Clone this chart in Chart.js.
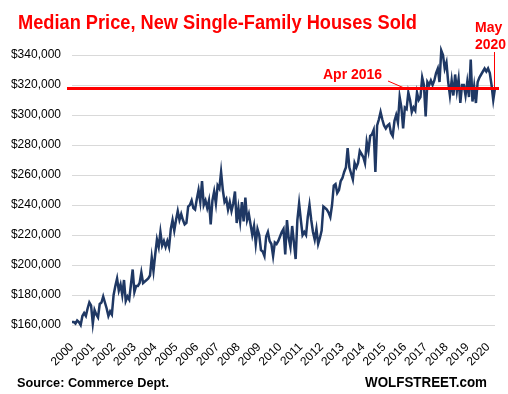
<!DOCTYPE html>
<html>
<head>
<meta charset="utf-8">
<script src="https://cdn.jsdelivr.net/npm/chart.js@4/dist/chart.umd.min.js"></script>
<style>
  html, body { margin: 0; padding: 0; background: #fff; }
  #wrap { width: 508px; height: 394px; position: relative; }
</style>
</head>
<body>
<div id="wrap"><canvas id="chart" width="508" height="394"></canvas></div>
<script>
// Years shown on the axis, and months used to build the monthly categories
const yearTicks = ['2000', '2001', '2002', '2003', '2004', '2005', '2006', '2007', '2008', '2009', '2010',
  '2011', '2012', '2013', '2014', '2015', '2016', '2017', '2018', '2019', '2020'];
const monthNames = ['Jan', 'Feb', 'Mar', 'Apr', 'May', 'Jun', 'Jul', 'Aug', 'Sep', 'Oct', 'Nov', 'Dec'];

// Median price of new single-family houses sold, monthly, Jan 2000 - May 2020 (USD)
const medianPrice = [
  162000, 162000, 161000, 163000, 162000, 160000, 166000, 168000, 166000, 171000, 175000, 173000, // 2000
  161000, 170000, 167000, 165000, 174000, 175000, 179000, 175000, 171000, 166000, 169000, 167000, // 2001
  180000, 186000, 191000, 183000, 187000, 180000, 190000, 176000, 179000, 177000, 187000, 197000, // 2002
  182000, 186000, 186000, 188000, 195000, 188000, 189000, 190000, 191000, 193000, 205000, 196000, // 2003
  207000, 217000, 212000, 222000, 213000, 216000, 212000, 216000, 212000, 224000, 230000, 223000, // 2004
  230000, 236000, 230000, 234000, 230000, 227000, 228000, 239000, 240000, 243000, 238000, 237000, // 2005
  244000, 250000, 242000, 256000, 240000, 243000, 238000, 243000, 227000, 243000, 249000, 241000, // 2006
  253000, 251000, 262000, 250000, 242000, 244000, 237000, 242000, 236000, 241000, 249000, 228000, // 2007
  238000, 229000, 242000, 229000, 245000, 230000, 234000, 227000, 220000, 226000, 214000, 224000, // 2008
  220000, 210000, 209000, 206000, 219000, 222000, 216000, 214000, 206000, 215000, 214000, 216000, // 2009
  219000, 222000, 224000, 207000, 230000, 218000, 212000, 226000, 215000, 204000, 230000, 241000, // 2010
  230000, 220000, 222000, 220000, 232000, 240000, 230000, 222000, 217000, 224000, 214000, 218000, // 2011
  223000, 239000, 238000, 237000, 235000, 232000, 240000, 253000, 254000, 248000, 250000, 256000, // 2012
  258000, 262000, 265000, 278000, 265000, 261000, 257000, 268000, 265000, 268000, 276000, 274000, // 2013
  272000, 268000, 282000, 276000, 286000, 287000, 290000, 262000, 293000, 297000, 302000, 297000, // 2014
  293000, 291000, 293000, 294000, 288000, 286000, 296000, 300000, 295000, 312000, 305000, 291000, // 2015
  305000, 304000, 315000, 310000, 302000, 305000, 303000, 315000, 310000, 312000, 325000, 320000, // 2016
  299000, 322000, 320000, 323000, 320000, 323000, 328000, 331000, 322000, 343000, 340000, 331000, // 2017
  335000, 322000, 313000, 323000, 313000, 327000, 316000, 324000, 308000, 320000, 320000, 313000, // 2018
  322000, 312000, 337000, 309000, 319000, 308000, 322000, 325000, 327000, 329000, 331000, 329000, // 2019
  331000, 328000, 320000, 310000, 317900                                                          // 2020
];

// Level of May 2020, drawn as the red reference line
const referencePrice = 317900;

const RED = '#FF0000';
const NAVY = '#1F3864';

// Monthly category labels built from the years and months above
const labels = [];
yearTicks.forEach(yr => monthNames.forEach(m => labels.push(m + ' ' + yr)));
labels.length = medianPrice.length;

// Title, notes and reference line drawn on the canvas
const annotations = {
  id: 'annotations',
  afterDatasetsDraw(chart) {
    const { ctx, chartArea, scales: { x, y } } = chart;
    const yRef = Math.round(y.getPixelForValue(referencePrice)) + 0.5;
    const xLast = Math.round(x.getPixelForValue(medianPrice.length - 1)) - 0.5;

    ctx.save();
    ctx.strokeStyle = RED;
    ctx.lineWidth = 3;
    ctx.beginPath();
    ctx.moveTo(chartArea.left - 5, yRef);
    ctx.lineTo(chartArea.right + 4, yRef);
    ctx.stroke();

    // leader for May 2020
    ctx.lineWidth = 1;
    ctx.beginPath();
    ctx.moveTo(xLast, 52);
    ctx.lineTo(xLast, yRef);
    ctx.stroke();

    // leader for Apr 2016
    ctx.beginPath();
    ctx.moveTo(388, 81);
    ctx.lineTo(403, yRef - 1);
    ctx.stroke();

    ctx.fillStyle = RED;
    ctx.textBaseline = 'alphabetic';
    ctx.textAlign = 'left';
    ctx.font = 'bold 20px "Liberation Sans", Arial, sans-serif';
    ctx.fillText('Median Price, New Single-Family Houses Sold', 18, 29, 399);

    ctx.font = 'bold 14px "Liberation Sans", Arial, sans-serif';
    ctx.fillText('May', 475, 32, 28);
    ctx.fillText('2020', 475, 49, 31);
    ctx.fillText('Apr 2016', 323, 79, 60);

    ctx.fillStyle = '#000';
    ctx.font = 'bold 13px "Liberation Sans", Arial, sans-serif';
    ctx.fillText('Source: Commerce Dept.', 17, 387, 152);
    ctx.font = 'bold 14px "Liberation Sans", Arial, sans-serif';
    ctx.fillText('WOLFSTREET.com', 365, 387, 122);
    ctx.restore();
  }
};

const ctx = document.getElementById('chart').getContext('2d');
new Chart(ctx, {
  type: 'line',
  data: {
    labels: labels,
    datasets: [{
      label: 'Median Price',
      data: medianPrice,
      borderColor: NAVY,
      borderWidth: 2.5,
      pointRadius: 0,
      tension: 0,
      clip: false
    }]
  },
  options: {
    responsive: false,
    animation: false,
    devicePixelRatio: 1,
    layout: { padding: { top: 55, right: 13, left: 0, bottom: 0 } },
    plugins: {
      legend: { display: false },
      title: { display: false },
      tooltip: { enabled: false }
    },
    scales: {
      x: {
        grid: { display: false },
        border: { display: false },
        ticks: {
          autoSkip: false,
          maxRotation: 45,
          minRotation: 45,
          padding: 7,
          color: '#000',
          font: { family: '"Liberation Sans", Arial, sans-serif', size: 12 },
          callback: (val, index) => (index % 12 === 0 ? yearTicks[index / 12] : null)
        },
        afterFit: scale => { scale.height = 69; }
      },
      y: {
        min: 160000,
        max: 340000,
        grid: { color: '#D9D9D9', lineWidth: 1, drawTicks: false },
        border: { display: false },
        ticks: {
          stepSize: 20000,
          padding: 11,
          color: '#000',
          font: { family: '"Liberation Sans", Arial, sans-serif', size: 12 },
          callback: v => '$' + v.toLocaleString('en-US')
        },
        afterFit: scale => { scale.width = 72; }
      }
    }
  },
  plugins: [annotations]
});
</script>
</body>
</html>
